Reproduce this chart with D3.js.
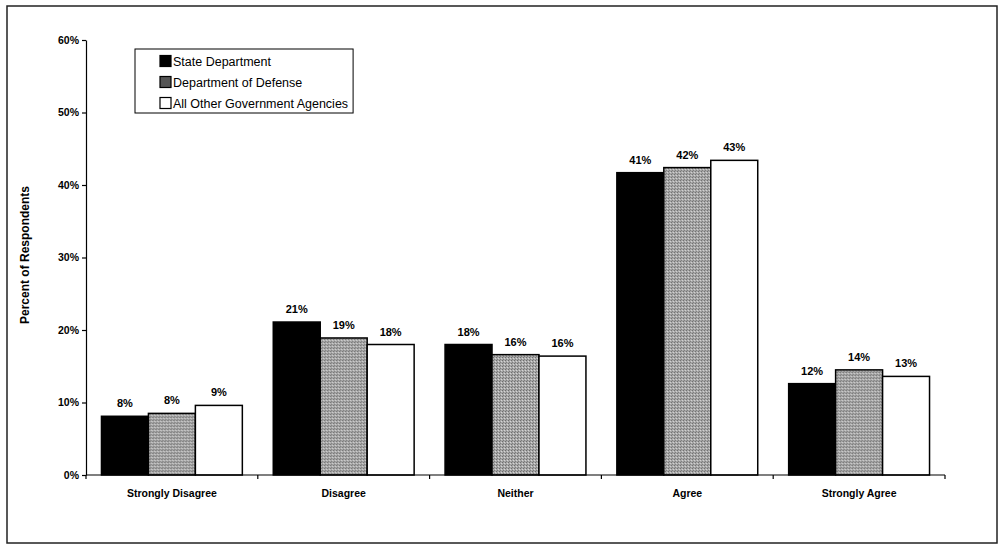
<!DOCTYPE html>
<html>
<head>
<meta charset="utf-8">
<script src="https://cdn.jsdelivr.net/npm/d3@7"></script>
<style>
  html, body { margin: 0; padding: 0; background: #fff; }
  svg { display: block; font-family: "Liberation Sans", Arial, sans-serif; }
</style>
</head>
<body>
<svg id="chart" width="1003" height="546"></svg>
<script>
const categories = ["Strongly Disagree", "Disagree", "Neither", "Agree", "Strongly Agree"];
const seriesNames = ["State Department", "Department of Defense", "All Other Government Agencies"];
const stateValues  = [8.1, 21.1, 18.0, 41.7, 12.6];
const dodValues    = [8.5, 18.9, 16.6, 42.4, 14.5];
const otherValues  = [9.6, 18.0, 16.4, 43.4, 13.6];
const stateLabels  = ["8%", "21%", "18%", "41%", "12%"];
const dodLabels    = ["8%", "19%", "16%", "42%", "14%"];
const otherLabels  = ["9%", "18%", "16%", "43%", "13%"];
const yTicks = [0, 10, 20, 30, 40, 50, 60];

(function () {
const allValues = [stateValues, dodValues, otherValues];
const allLabels = [stateLabels, dodLabels, otherLabels];

const svg = d3.select("#chart");
const defs = svg.append("defs");
const pat = defs.append("pattern").attr("id", "stipple")
  .attr("patternUnits", "userSpaceOnUse").attr("width", 3).attr("height", 3);
pat.append("rect").attr("width", 3).attr("height", 3).attr("fill", "#a8a8a8");
pat.append("rect").attr("x", 0).attr("y", 0).attr("width", 1).attr("height", 1).attr("fill", "#6a6a6a");
pat.append("rect").attr("x", 2).attr("y", 1).attr("width", 1).attr("height", 1).attr("fill", "#d8d8d8");
pat.append("rect").attr("x", 1).attr("y", 2).attr("width", 1).attr("height", 1).attr("fill", "#7a7a7a");

const fills = ["#000", "url(#stipple)", "#fff"];

// outer frame
svg.append("rect").attr("x", 7).attr("y", 6).attr("width", 990).attr("height", 537)
  .attr("fill", "none").attr("stroke", "#222").attr("stroke-width", 1.5);

const pLeft = 86, pRight = 945, pTop = 40, pBottom = 475;
const x0 = d3.scaleBand().domain(categories).range([pLeft, pRight]).paddingInner(0.18).paddingOuter(0.09);
const x1 = d3.scaleBand().domain(seriesNames).range([0, x0.bandwidth()]);
const y = d3.scaleLinear().domain([0, 60]).range([pBottom, pTop]);

// y axis
const yAxis = svg.append("g").attr("transform", `translate(${pLeft},0)`)
  .call(d3.axisLeft(y).tickValues(yTicks).tickFormat(d => d + "%").tickSize(4).tickSizeOuter(0));
yAxis.select(".domain").attr("stroke", "#000").attr("stroke-width", 1.2);
yAxis.selectAll(".tick line").attr("stroke", "#000").attr("stroke-width", 1.2);
yAxis.selectAll(".tick text").attr("font-size", 10.5).attr("font-weight", "bold").attr("x", -7).attr("fill", "#000");

// bars
const groups = svg.append("g").selectAll("g").data(categories).join("g")
  .attr("transform", d => `translate(${x0(d)},0)`);
seriesNames.forEach((s, si) => {
  groups.append("rect")
    .attr("x", x1(s))
    .attr("y", (d, i) => y(allValues[si][i]))
    .attr("width", x1.bandwidth())
    .attr("height", (d, i) => y(0) - y(allValues[si][i]))
    .attr("fill", fills[si])
    .attr("stroke", "#000").attr("stroke-width", 1.5);
  groups.append("text")
    .attr("x", x1(s) + x1.bandwidth() / 2)
    .attr("y", (d, i) => y(allValues[si][i]) - 9)
    .attr("text-anchor", "middle")
    .attr("font-size", 11).attr("font-weight", "bold")
    .text((d, i) => allLabels[si][i]);
});

// x axis
const xAxisG = svg.append("g").attr("transform", `translate(0,${pBottom})`);
xAxisG.append("line").attr("x1", pLeft).attr("x2", pRight).attr("stroke", "#000").attr("stroke-width", 1.2);
const boundaries = categories.map(c => x0(c) - x0.step() * x0.paddingInner() / 2).concat([pRight]);
boundaries[0] = pLeft;
xAxisG.selectAll("line.tk").data(boundaries).join("line").attr("class", "tk")
  .attr("x1", d => d).attr("x2", d => d).attr("y1", 0).attr("y2", 4)
  .attr("stroke", "#000").attr("stroke-width", 1.2);
xAxisG.selectAll("text").data(categories).join("text")
  .attr("x", d => x0(d) + x0.bandwidth() / 2)
  .attr("y", 22)
  .attr("text-anchor", "middle")
  .attr("font-size", 10.5).attr("font-weight", "bold")
  .text(d => d);

// y axis title
svg.append("text")
  .attr("transform", `translate(29,255) rotate(-90)`)
  .attr("text-anchor", "middle")
  .attr("font-size", 12).attr("font-weight", "bold")
  .text("Percent of Respondents");

// legend
const lg = svg.append("g");
const box = lg.append("rect").attr("x", 135).attr("y", 49).attr("height", 64)
  .attr("fill", "#fff").attr("stroke", "#000").attr("stroke-width", 1);
let maxRight = 0;
seriesNames.forEach((s, i) => {
  const cy = 61 + i * 21;
  lg.append("rect").attr("x", 160).attr("y", cy - 5.5).attr("width", 11).attr("height", 11)
    .attr("fill", i === 1 ? "#555" : fills[i]).attr("stroke", "#000").attr("stroke-width", 1.2);
  const t = lg.append("text").attr("x", 173).attr("y", cy + 5).attr("font-size", 12.5).text(s);
  const bb = t.node().getBBox();
  maxRight = Math.max(maxRight, bb.x + bb.width);
});
box.attr("width", maxRight + 5 - 135);
})();
</script>
</body>
</html>
